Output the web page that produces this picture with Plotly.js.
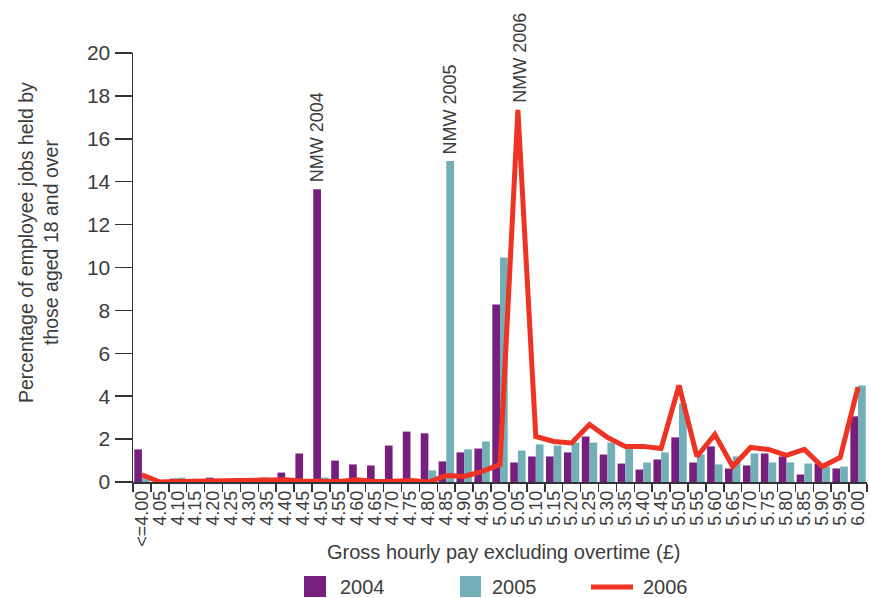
<!DOCTYPE html>
<html>
<head>
<meta charset="utf-8">
<script src="https://cdn.plot.ly/plotly-3.0.1.min.js"></script>
<style>html,body{margin:0;padding:0;background:#fff;}#chart{width:869px;height:598px;}</style>
</head>
<body>
<div id="chart"></div>
<script>
// ---- data ----
const payBands = ['<=4.00','4.05','4.10','4.15','4.20','4.25','4.30','4.35','4.40','4.45',
  '4.50','4.55','4.60','4.65','4.70','4.75','4.80','4.85','4.90','4.95',
  '5.00','5.05','5.10','5.15','5.20','5.25','5.30','5.35','5.40','5.45',
  '5.50','5.55','5.60','5.65','5.70','5.75','5.80','5.85','5.90','5.95','6.00'];
const share2004 = [1.52,0,0.16,0,0.2,0.05,0,0.2,0.44,1.33,
  13.65,1.0,0.82,0.77,1.7,2.35,2.27,0.96,1.38,1.56,
  8.28,0.91,1.19,1.19,1.38,2.12,1.28,0.86,0.58,1.05,
  2.08,0.91,1.66,0.63,0.77,1.33,1.19,0.35,0.86,0.63,3.06];
const share2005 = [0.3,0,0.2,0,0.05,0,0,0.05,0,0,
  0.2,0,0,0,0,0.15,0.54,14.96,1.52,1.89,
  10.47,1.47,1.75,1.7,1.84,1.84,1.84,1.56,0.91,1.38,
  3.66,1.28,0.82,1.19,1.33,0.91,0.91,0.86,0.72,0.72,4.5];
const share2006 = [0.34,0,0.02,0.03,0.05,0.08,0.07,0.08,0.1,0.05,
  0.02,0.02,0.1,0.02,0.03,0.07,0.0,0.3,0.26,0.49,
  0.82,17.35,2.12,1.89,1.82,2.68,2.08,1.66,1.66,1.56,
  4.5,1.19,2.22,0.72,1.61,1.52,1.24,1.52,0.72,1.14,4.42];
const seriesNames = ['2004','2005','2006'];
const nmwLabels = [
  {text:'NMW 2004', band:'4.50', series:share2004, shift:-4},
  {text:'NMW 2005', band:'4.85', series:share2005, shift:4},
  {text:'NMW 2006', band:'5.05', series:share2006, shift:2}
];

// ---- styles ----
const C_PURPLE = '#761f7e', C_TEAL = '#72afb6', C_RED = '#ee3224';
const TXT = '#3c3c3c';
const FONT = 'Liberation Sans, Arial, sans-serif';
const L = 133, W = 734, T = 53, H = 429;
const px = x => (x - L) / W;
const py = y => (T + H - y) / H;

const traces = [
  {type:'bar', name:seriesNames[0], x:payBands, y:share2004, marker:{color:C_PURPLE}, showlegend:false},
  {type:'bar', name:seriesNames[1], x:payBands, y:share2005, marker:{color:C_TEAL}, showlegend:false},
  {type:'scatter', mode:'lines', name:seriesNames[2], x:payBands, y:share2006,
   line:{color:C_RED, width:5}, showlegend:false}
];

const annotations = nmwLabels.map(a => {
  const i = payBands.indexOf(a.band);
  return {
    x: i, y: a.series[i], xref:'x', yref:'y',
    text: a.text, textangle:-90, showarrow:false, xanchor:'center', yanchor:'bottom',
    xshift:a.shift, yshift:5, font:{family:FONT, size:18, color:TXT}
  };
});
annotations.push(
  {xref:'paper', yref:'paper', x:px(38), y:py(243), text:'Percentage of employee jobs held by<br>those aged 18 and over',
   textangle:-90, showarrow:false, xanchor:'center', yanchor:'middle', font:{family:FONT, size:19.5, color:TXT}},
  {xref:'paper', yref:'paper', x:px(503), y:py(552), text:'Gross hourly pay excluding overtime (£)',
   showarrow:false, xanchor:'center', yanchor:'middle', font:{family:FONT, size:20, color:TXT}},
  {xref:'paper', yref:'paper', x:px(338), y:py(587), text:seriesNames[0], showarrow:false, xanchor:'left', yanchor:'middle', font:{family:FONT, size:20, color:TXT}},
  {xref:'paper', yref:'paper', x:px(490), y:py(587), text:seriesNames[1], showarrow:false, xanchor:'left', yanchor:'middle', font:{family:FONT, size:20, color:TXT}},
  {xref:'paper', yref:'paper', x:px(641), y:py(587), text:seriesNames[2], showarrow:false, xanchor:'left', yanchor:'middle', font:{family:FONT, size:20, color:TXT}}
);

const shapes = [
  {type:'rect', xref:'paper', yref:'paper', x0:px(304), x1:px(326), y0:py(597), y1:py(576), fillcolor:C_PURPLE, line:{width:0}},
  {type:'rect', xref:'paper', yref:'paper', x0:px(460), x1:px(481), y0:py(597), y1:py(576), fillcolor:C_TEAL, line:{width:0}},
  {type:'line', xref:'paper', yref:'paper', x0:px(591), x1:px(633), y0:py(587), y1:py(587), line:{color:C_RED, width:5}}
];

const layout = {
  width:869, height:598,
  margin:{l:L, r:869-L-W, t:T, b:598-T-H},
  paper_bgcolor:'#fff', plot_bgcolor:'#fff',
  barmode:'group', bargap:0.14, bargroupgap:0,
  showlegend:false,
  font:{family:FONT, color:TXT},
  xaxis:{type:'category', categoryorder:'array', categoryarray:payBands,
    tickvals:payBands, ticktext:payBands.map(s => s.replace('<','&lt;')),
    tickangle:-90, tickfont:{family:FONT, size:18, color:TXT},
    ticks:'outside', tickson:'boundaries', ticklen:8, tickcolor:'#333', tickwidth:1.5,
    showline:true, linecolor:'#333', linewidth:1.5, showgrid:false, zeroline:false, fixedrange:true},
  yaxis:{range:[0,20], dtick:2, tickfont:{family:FONT, size:21, color:TXT},
    ticks:'outside', ticklen:17, tickcolor:'#333', tickwidth:1.5,
    showline:true, linecolor:'#333', linewidth:1.5, showgrid:false, zeroline:false, fixedrange:true},
  annotations: annotations,
  shapes: shapes
};

Plotly.newPlot('chart', traces, layout, {displayModeBar:false, staticPlot:true});
</script>
</body>
</html>
